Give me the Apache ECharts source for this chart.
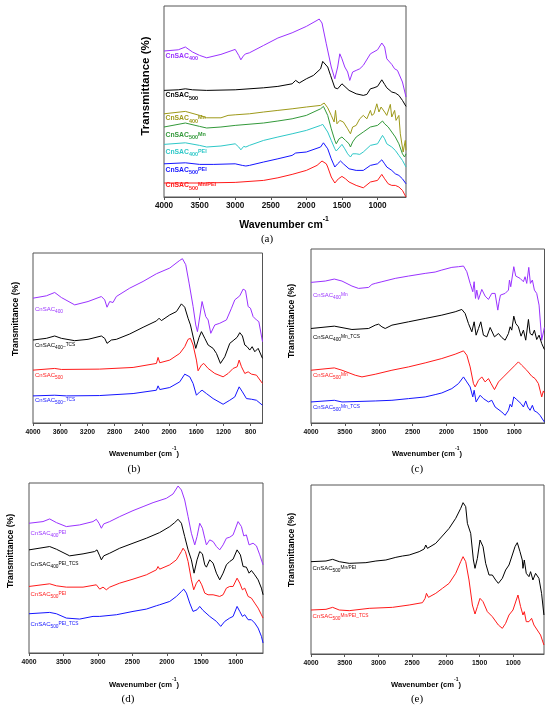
<!DOCTYPE html>
<html>
<head>
<meta charset="utf-8">
<script src="https://cdn.jsdelivr.net/npm/echarts@6/dist/echarts.min.js"></script>
<style>
  html, body { margin: 0; padding: 0; background: #fff; }
  #main { width: 550px; height: 709px; }
</style>
</head>
<body>
<div id="main"></div>
<script>
// ---- data: [wavenumber, relative transmittance] ----

// (a)
var a400 = [[4000,74.7],[3800,75.3],[3700,76.7],[3600,74.2],[3500,72.5],[3400,71.3],[3200,73],[3000,75.5],[2950,72.5],[2920,70.3],[2880,72.5],[2850,73.3],[2800,73.8],[2600,77.5],[2400,81.2],[2200,83.8],[2000,87],[1850,90],[1820,90.7],[1780,88.7],[1720,78.3],[1650,66.7],[1600,60.8],[1560,66.7],[1530,73.3],[1500,70.8],[1460,66.7],[1420,64.2],[1390,60],[1350,64.2],[1300,65],[1250,65.8],[1200,67.5],[1100,73.3],[1000,75.3],[940,78.7],[900,76.7],[870,70.8],[850,71.3],[800,68],[760,65.8],[720,65],[700,64.2],[650,59.2],[600,51.7]];
var a500 = [[4000,55],[3800,55.3],[3700,55.8],[3600,55.3],[3400,55],[3000,55.3],[2600,56.3],[2400,57],[2200,58.3],[2150,60],[2100,58.7],[2000,60.8],[1900,62.5],[1800,65.8],[1770,69.5],[1700,66.7],[1660,62.5],[1600,56.3],[1560,55.8],[1500,58.3],[1480,58.3],[1400,55],[1300,53.3],[1200,52.5],[1150,53],[1100,55.8],[1050,56.3],[1000,57],[940,60.3],[900,58],[870,56.3],[850,55.3],[800,54.2],[750,53.7],[700,52.5],[650,50],[600,47]];
var a400Mn = [[4000,43.3],[3700,44.5],[3500,42.5],[3400,41.3],[3200,41.3],[3100,42.5],[3000,42.8],[2800,43.3],[2600,44.2],[2400,45],[2200,45.8],[2000,46.7],[1800,47.5],[1750,48.7],[1700,46.3],[1650,42.5],[1610,39.2],[1590,45],[1570,38.3],[1530,40],[1480,39.2],[1420,35.8],[1380,33.3],[1350,36.7],[1300,37.5],[1250,40.8],[1200,42.5],[1150,40.8],[1100,45],[1080,42.5],[1050,43.3],[1010,48.3],[980,44.2],[950,46.7],[900,44.2],[870,42.5],[820,48],[800,41.7],[760,45],[740,40],[700,42.5],[680,33.3],[640,24.2],[620,23.3],[610,30],[600,25]];
var a500Mn = [[4000,36.7],[3700,38.7],[3500,37],[3400,36.2],[3200,36.7],[3000,37.5],[2600,38.7],[2400,39.7],[2200,40.8],[2000,42.5],[1800,45.8],[1760,47],[1700,42.5],[1650,35.8],[1600,30],[1580,28.3],[1540,30.8],[1500,31.7],[1450,30],[1400,28.3],[1380,26.7],[1350,29.2],[1300,31.7],[1200,34.2],[1100,36.7],[1000,37.5],[930,39.7],[900,38.3],[850,36.7],[800,34.2],[750,31.7],[700,28.3],[650,23.3],[620,21.7],[600,23.3]];
var a400PEI = [[4000,28],[3700,28.8],[3500,27.5],[3400,26.7],[3200,27.2],[3000,28.3],[2950,26.7],[2920,25.3],[2880,27],[2850,26.7],[2800,27.5],[2600,30],[2400,31.7],[2200,33.3],[2000,35],[1800,37.5],[1770,38],[1700,34.2],[1650,30],[1600,25.8],[1580,24.7],[1530,26.7],[1500,28],[1460,25.8],[1420,23.3],[1380,21.7],[1350,23.3],[1300,23.3],[1250,23],[1200,24.2],[1100,27.5],[1000,28.3],[930,32.5],[900,30.8],[870,28.3],[850,28],[800,26.7],[750,25],[700,22.5],[650,20],[600,16.7]];
var a500PEI = [[4000,18.3],[3700,18.8],[3500,18],[3300,18],[3000,18.3],[2900,17.5],[2850,17.2],[2800,17.5],[2600,19.2],[2400,20.8],[2200,22.5],[2150,23.7],[2000,24.2],[1800,26.7],[1760,28.8],[1700,25.8],[1650,20.8],[1600,16.7],[1560,18.3],[1520,19.7],[1480,18.3],[1400,15.8],[1300,15],[1200,15],[1100,17.5],[1000,18.3],[940,20.3],[900,18.3],[870,16.7],[800,15],[750,13.3],[700,12.5],[650,10.8],[600,8.3]];
var a500MnPEI = [[4000,8.7],[3500,8.7],[3000,9],[2600,10],[2400,11.3],[2200,13],[2000,15],[1850,17.5],[1780,19.7],[1720,18.3],[1700,16.7],[1650,11.7],[1600,8.7],[1550,10.8],[1500,12],[1450,10.8],[1400,9.2],[1300,7.5],[1200,6.3],[1100,9.2],[1000,10],[940,13],[900,10.8],[850,8.3],[800,7.5],[750,7.5],[700,6.7],[650,5],[600,1.7]];

// (b)
var b400 = [[4000,75],[3804,76.4],[3681,78.4],[3583,75.4],[3387,71],[3191,73],[2995,76],[2946,74],[2912,69.6],[2873,73],[2824,72.4],[2775,76],[2578,81],[2382,85],[2186,89.6],[1990,93],[1843,97.6],[1804,98.6],[1755,95],[1706,84],[1647,70],[1608,59],[1583,55],[1515,73],[1461,64],[1426,62],[1387,54],[1328,59],[1255,60],[1157,62],[1083,69],[1034,74],[961,76.4],[912,80.4],[877,79.6],[838,70],[804,69],[765,64],[716,62],[681,61],[627,49]];
var b400TCS = [[4000,50],[3804,51],[3681,52.4],[3583,51],[3387,49.6],[3191,50.4],[2995,52.4],[2946,51],[2912,48],[2848,50],[2775,50.4],[2578,53.6],[2382,57.6],[2186,61.4],[2147,63],[2113,61.6],[1990,65],[1892,67],[1819,71.6],[1770,69.6],[1721,63],[1686,59],[1657,58],[1608,45],[1559,51.6],[1524,55],[1475,51],[1426,47],[1402,48],[1353,45],[1304,42],[1245,36],[1181,40],[1108,48],[1059,49.6],[1000,51.6],[961,54.4],[922,52.4],[887,47],[853,46],[814,44],[779,46],[740,43],[691,45],[627,39]];
var b500 = [[4000,32],[3681,33],[3583,32.4],[3020,32.6],[2529,33.6],[2186,36],[2162,39.6],[2137,36.4],[1990,38],[1843,42],[1770,46],[1721,50.4],[1686,51],[1647,47],[1598,38],[1574,31.6],[1524,35],[1490,36],[1426,33],[1328,30],[1206,28],[1132,30],[1059,33],[1000,34],[970,38],[936,34],[887,30],[838,31],[789,29.6],[716,29],[627,24]];
var b500TCS = [[4000,16.6],[3681,17],[3510,16.6],[3020,16.8],[2529,18],[2186,20],[2162,22.6],[2137,20.4],[1990,21.6],[1843,25],[1770,29.6],[1745,30.4],[1696,28],[1647,24],[1598,17],[1549,19],[1515,20],[1451,18],[1353,15],[1206,11.6],[1108,14],[1034,16],[970,22],[922,19],[863,15],[789,14.6],[716,14],[627,11]];

// (c)
var c400Mn = [[4000,84.6],[3789,85.4],[3656,86.6],[3543,85.4],[3396,82.4],[3298,81],[3150,81.6],[3101,83.4],[3052,84],[2954,85],[2757,87],[2561,88.4],[2315,90],[2168,90.8],[2070,92],[1922,93.6],[1824,94],[1750,94.4],[1701,91],[1652,84],[1613,79],[1593,85],[1573,75],[1554,80],[1529,74.4],[1480,80.4],[1431,76.4],[1382,74.4],[1333,78],[1284,78],[1244,68],[1225,73],[1205,77],[1136,78],[1087,80],[1072,86],[1053,82],[1008,94],[979,88.4],[915,87],[866,85],[842,88],[817,84],[787,93.6],[763,84],[734,86],[704,80],[670,78],[635,71],[596,50],[557,57.6]];
var c400MnTCS = [[4000,57],[3656,58.4],[3396,56.4],[3150,57],[3052,59],[3003,59.6],[2954,58],[2905,57],[2806,59],[2561,61],[2315,63],[2070,65],[1873,67],[1775,68.4],[1726,66],[1677,60],[1627,55],[1593,61],[1564,53],[1529,57],[1495,61],[1456,53],[1406,52],[1357,57.6],[1333,57.6],[1293,52],[1234,54],[1185,51.6],[1136,50],[1087,54],[1062,58],[1038,56],[1008,64.4],[979,60],[940,58],[901,52.4],[866,56],[832,50],[792,62.4],[768,54],[734,53],[704,56],[670,50.4],[635,53],[596,48],[557,44.4]];
var c500Mn = [[4000,32],[3656,33.4],[3543,32],[3347,29],[3248,28],[3052,29.6],[2806,32],[2561,34],[2315,36.4],[2070,39],[1873,41.6],[1750,43.6],[1701,41],[1652,34],[1603,24],[1578,22],[1529,26],[1480,28],[1431,25],[1382,27],[1343,24],[1293,20.4],[1234,25],[1161,28],[1087,31],[989,35],[940,37],[891,35],[817,32],[743,28.4],[694,27],[645,24],[596,16],[572,19.6],[557,18.4]];
var c500MnTCS = [[4000,13],[3656,14],[3543,13],[3052,13.6],[3027,14.6],[2806,14],[2561,15],[2315,16],[2168,17.4],[2070,18.4],[1922,21],[1824,24],[1750,28],[1701,25],[1652,22],[1613,16],[1593,20],[1564,13],[1505,17],[1456,15],[1382,13],[1333,14],[1284,10],[1185,7],[1136,5],[1087,8],[1062,11.6],[1038,10],[1008,16],[964,14.4],[940,15],[901,12],[866,10],[832,13.6],[802,10],[768,8],[734,11],[704,7.6],[670,7],[621,5],[557,1]];

// (d)
var d400PEI = [[4000,78],[3797,79],[3700,80.6],[3603,78.4],[3458,76],[3265,77],[3071,79],[3023,80.4],[2984,78],[2950,75],[2916,77.6],[2829,79],[2684,82],[2491,85.6],[2345,88],[2200,90.4],[2007,93],[1910,95.6],[1837,100.4],[1789,98],[1741,92],[1692,82],[1644,72],[1595,65],[1562,70],[1523,78],[1484,75],[1450,69],[1426,65],[1402,64],[1378,68],[1329,67],[1281,64],[1233,62],[1184,65],[1136,69],[1088,69.6],[1039,71],[967,79],[918,76],[884,70.4],[846,71],[807,65],[749,66],[700,64.4],[652,59],[604,53]];
var d400PEITCS = [[4000,62],[3700,64],[3603,62.4],[3410,58.4],[3216,59.6],[3047,61],[3013,62],[2974,58.4],[2950,56],[2916,58.4],[2829,60],[2684,63],[2491,66],[2297,69],[2104,72.4],[1958,76],[1886,78.4],[1837,80.4],[1789,78],[1741,70],[1692,62],[1644,56],[1605,48],[1562,56],[1523,61],[1484,59.6],[1450,53],[1426,51.6],[1378,56],[1329,54],[1281,48],[1233,44],[1184,48],[1136,53],[1088,55],[1039,56.4],[981,62],[933,59],[894,52],[846,51.6],[807,48],[773,49.6],[725,47],[676,44],[628,39],[604,35]];
var d500PEI = [[4000,40],[3700,41.6],[3603,40.4],[3458,39.6],[3216,39.6],[3023,41],[2974,38.4],[2926,39.6],[2878,38],[2829,39.6],[2684,42],[2491,44.4],[2297,47],[2152,50],[2128,52],[2104,50.4],[1958,53],[1862,56],[1789,61],[1765,63],[1731,61],[1692,55],[1644,44],[1610,38],[1571,42],[1533,44],[1494,41],[1450,36],[1402,35],[1329,35],[1233,34],[1184,35],[1136,39],[1088,40],[1039,40],[981,45],[942,42],[904,38],[870,39],[821,34],[773,33],[725,30],[676,27],[628,23],[604,21]];
var d500PEITCS = [[4000,23.6],[3700,24.4],[3603,23.6],[3458,21],[3265,20.4],[3071,22],[2974,22],[2732,23],[2491,25],[2297,26.4],[2152,28.4],[2128,29.6],[2104,29],[1958,31],[1862,34],[1789,37],[1755,38.4],[1716,36],[1668,30],[1620,25],[1595,24],[1562,26],[1523,28],[1475,25.6],[1378,22],[1281,19],[1218,16],[1160,19],[1088,21],[1039,22],[981,28],[942,25],[904,22],[870,23],[821,20],[773,20],[725,18],[676,15],[628,10],[604,6]];

// (e)
var e500MnPEI = [[4000,56],[3778,56.4],[3679,57.4],[3581,56],[3433,55],[3186,55.4],[3038,56.4],[2890,57],[2742,58.6],[2643,59.4],[2544,60],[2396,62],[2322,63.6],[2298,66],[2273,64],[2150,67],[2026,72.6],[1952,76],[1854,82],[1780,88],[1745,91.4],[1706,89],[1681,79],[1657,80],[1632,73],[1592,57],[1568,52],[1533,58],[1494,69],[1449,65],[1410,55],[1360,48],[1311,48],[1262,45],[1222,43],[1163,46],[1114,51],[1064,54],[1015,60],[975,65],[941,67.4],[901,62],[867,57],[857,52],[837,57],[808,49],[768,47],[744,50],[709,45],[670,49],[620,46],[581,37],[546,24]];
var e500MnPEITCS = [[4000,27],[3778,27.4],[3679,28.6],[3581,27],[3433,26.6],[3137,28],[2791,28.6],[2544,30],[2347,31.4],[2308,34],[2288,37],[2258,34.6],[2150,37],[2051,40],[1952,43],[1854,49],[1780,56],[1745,59],[1706,56],[1657,45],[1607,30],[1568,24.6],[1533,29],[1494,34],[1449,32],[1385,26],[1311,23],[1222,18],[1163,16],[1114,19],[1064,24],[1005,27],[956,33],[931,36],[892,29],[857,24],[837,26],[808,20],[768,20],[729,22],[694,18],[645,15],[596,12],[571,9],[546,6]];

// tick labels
var ticksA = [4000, 3500, 3000, 2500, 2000, 1500, 1000];
var ticksB = [4000, 3600, 3200, 2800, 2400, 2000, 1600, 1200, 800];
var ticks500 = [4000, 3500, 3000, 2500, 2000, 1500, 1000];

var PURPLE = '#9a32ff', BLACK = '#000000', OLIVE = '#9e9a1a', GREEN = '#33993a',
    CYAN = '#2ec8c8', BLUE = '#1515ff', RED = '#ff1a1a';

var chart = echarts.init(document.getElementById('main'));

var grids = [
  {left: 164, top: 6, width: 242, height: 191},
  {left: 33, top: 253, width: 229.5, height: 170},
  {left: 311, top: 249, width: 233.5, height: 174},
  {left: 29, top: 483, width: 234, height: 170},
  {left: 311, top: 485, width: 233, height: 169}
];
grids.forEach(function (g) {
  g.show = true; g.borderColor = '#555'; g.borderWidth = 1; g.containLabel = false;
});

function xAx(i, min, ticks, fs, margin) {
  return {
    type: 'value', gridIndex: i, inverse: true, min: min, max: 4000,
    axisLine: {show: true, lineStyle: {color: '#555', width: 1}},
    axisTick: {show: true, length: 3, customValues: ticks, lineStyle: {color: '#555'}},
    axisLabel: {customValues: ticks, fontSize: fs, fontWeight: 'bold', color: '#111',
      fontFamily: 'Liberation Sans, Arial, sans-serif', margin: margin,
      formatter: function (v) { return String(v); }},
    splitLine: {show: false}
  };
}
function yAx(i, min, max) {
  return {type: 'value', gridIndex: i, min: min, max: max, show: false, splitLine: {show: false}};
}

function line(i, data, color) {
  return {
    type: 'line', xAxisIndex: i, yAxisIndex: i, data: data, symbol: 'none',
    lineStyle: {color: color, width: 1}, itemStyle: {color: color},
    silent: true, animation: false, z: 3
  };
}

var FONT = 'Liberation Sans, Arial, sans-serif';

function richSet(fs, bold) {
  var w = bold ? 'bold' : 'normal';
  var sub = fs * 0.8;
  var lh = fs + 2;
  return {
    m: {fontSize: fs, fontWeight: w, fontFamily: FONT, lineHeight: lh, verticalAlign: 'top'},
    s: {fontSize: sub, fontWeight: w, fontFamily: FONT, lineHeight: sub, verticalAlign: 'bottom'},
    p: {fontSize: sub, fontWeight: w, fontFamily: FONT, lineHeight: sub, verticalAlign: 'top'}
  };
}

// parts: [[style, text], ...]
function tag(x, y, color, parts, fs, bold) {
  var txt = parts.map(function (p) { return '{' + p[0] + '|' + p[1] + '}'; }).join('');
  return {
    type: 'text', x: x, y: y, z: 10, silent: true,
    style: {text: txt, fill: color, textAlign: 'left', textVerticalAlign: 'middle',
      rich: richSet(fs, bold)}
  };
}

function xTitle(x, y, txt, fs) {
  return {
    type: 'text', x: x, y: y, z: 10, silent: true,
    style: {
      text: '{n|' + txt + '}{u|-1}' + (txt.indexOf('(') >= 0 ? '{n|)}' : ''),
      fill: '#000', textAlign: 'center', textVerticalAlign: 'middle',
      rich: {
        n: {fontSize: fs, fontWeight: 'bold', fontFamily: FONT, lineHeight: fs + 4, verticalAlign: 'bottom'},
        u: {fontSize: fs * 0.65, fontWeight: 'bold', fontFamily: FONT, lineHeight: fs * 0.65, verticalAlign: 'top'}
      }
    }
  };
}
function yTitle(x, y, fs) {
  return {
    type: 'text', x: x, y: y, rotation: Math.PI / 2, z: 10, silent: true,
    style: {text: 'Transmittance (%)', fill: '#000', fontSize: fs, fontWeight: 'bold',
      fontFamily: FONT, textAlign: 'center', textVerticalAlign: 'middle'}
  };
}
function panel(x, y, t) {
  return {
    type: 'text', x: x, y: y, z: 10, silent: true,
    style: {text: t, fill: '#000', fontSize: 11, fontFamily: 'Liberation Serif, Times New Roman, serif',
      textAlign: 'center', textVerticalAlign: 'middle'}
  };
}

var LS = 6.8, LB = 6;

var graphic = [
  // (a)
  tag(165.5, 57, PURPLE, [['m', 'CnSAC'], ['s', '400']], LS, true),
  tag(165.5, 96.5, BLACK, [['m', 'CnSAC'], ['s', '500']], LS, true),
  tag(165.5, 119.5, OLIVE, [['m', 'CnSAC'], ['s', '400'], ['p', 'Mn']], LS, true),
  tag(165.5, 136, GREEN, [['m', 'CnSAC'], ['s', '500'], ['p', 'Mn']], LS, true),
  tag(165.5, 153, CYAN, [['m', 'CnSAC'], ['s', '400'], ['p', 'PEI']], LS, true),
  tag(165.5, 171, BLUE, [['m', 'CnSAC'], ['s', '500'], ['p', 'PEI']], LS, true),
  tag(165.5, 186.5, RED, [['m', 'CnSAC'], ['s', '500'], ['p', 'Mn/PEI']], LS, true),
  yTitle(146, 86, 11.5),
  xTitle(284, 223, 'Wavenumber cm', 10.5),
  panel(267, 239.5, '(a)'),
  // (b)
  tag(35, 310, PURPLE, [['m', 'CnSAC'], ['s', '400']], LB, false),
  tag(35, 346, BLACK, [['m', 'CnSAC'], ['s', '400'], ['p', '_TCS']], LB, false),
  tag(35, 376, RED, [['m', 'CnSAC'], ['s', '500']], LB, false),
  tag(35, 401.5, BLUE, [['m', 'CnSAC'], ['s', '500'], ['p', '_TCS']], LB, false),
  yTitle(15.5, 319, 8.6),
  xTitle(144, 452, 'Wavenumber (cm', 7.6),
  panel(134, 469.5, '(b)'),
  // (c)
  tag(313, 296.5, PURPLE, [['m', 'CnSAC'], ['s', '400'], ['p', 'Mn']], LB, false),
  tag(313, 338.5, BLACK, [['m', 'CnSAC'], ['s', '400'], ['p', 'Mn_TCS']], LB, false),
  tag(313, 376.5, RED, [['m', 'CnSAC'], ['s', '500'], ['p', 'Mn']], LB, false),
  tag(313, 408, BLUE, [['m', 'CnSAC'], ['s', '500'], ['p', 'Mn_TCS']], LB, false),
  yTitle(292, 321, 8.6),
  xTitle(427, 452, 'Wavenumber (cm', 7.6),
  panel(417, 469.5, '(c)'),
  // (d)
  tag(30.5, 534, PURPLE, [['m', 'CnSAC'], ['s', '400'], ['p', 'PEI']], LB, false),
  tag(30.5, 565, BLACK, [['m', 'CnSAC'], ['s', '400'], ['p', 'PEI_TCS']], LB, false),
  tag(30.5, 595, RED, [['m', 'CnSAC'], ['s', '500'], ['p', 'PEI']], LB, false),
  tag(30.5, 625, BLUE, [['m', 'CnSAC'], ['s', '500'], ['p', 'PEI_TCS']], LB, false),
  yTitle(11, 551, 8.6),
  xTitle(144, 683, 'Wavenumber (cm', 7.6),
  panel(128, 699.5, '(d)'),
  // (e)
  tag(312.5, 569, BLACK, [['m', 'CnSAC'], ['s', '500'], ['p', 'Mn/PEI']], LB, false),
  tag(312.5, 617, RED, [['m', 'CnSAC'], ['s', '500'], ['p', 'Mn/PEI_TCS']], LB, false),
  yTitle(291.5, 550, 8.6),
  xTitle(426, 683, 'Wavenumber (cm', 7.6),
  panel(417, 699.5, '(e)')
];

var option = {
  backgroundColor: '#fff',
  animation: false,
  grid: grids,
  xAxis: [
    xAx(0, 600, ticksA, 8.2, 5),
    xAx(1, 627, ticksB, 6.8, 6),
    xAx(2, 555, ticks500, 6.8, 6),
    xAx(3, 605, ticks500, 6.8, 6),
    xAx(4, 545, ticks500, 6.8, 6)
  ],
  yAxis: [
    yAx(0, 1.7, 97.2),
    yAx(1, 0.4, 102),
    yAx(2, 0.4, 104.6),
    yAx(3, 0, 102.2),
    yAx(4, 0.6, 102)
  ],
  series: [
    line(0, a400, PURPLE), line(0, a500, BLACK), line(0, a400Mn, OLIVE), line(0, a500Mn, GREEN),
    line(0, a400PEI, CYAN), line(0, a500PEI, BLUE), line(0, a500MnPEI, RED),
    line(1, b400, PURPLE), line(1, b400TCS, BLACK), line(1, b500, RED), line(1, b500TCS, BLUE),
    line(2, c400Mn, PURPLE), line(2, c400MnTCS, BLACK), line(2, c500Mn, RED), line(2, c500MnTCS, BLUE),
    line(3, d400PEI, PURPLE), line(3, d400PEITCS, BLACK), line(3, d500PEI, RED), line(3, d500PEITCS, BLUE),
    line(4, e500MnPEI, BLACK), line(4, e500MnPEITCS, RED)
  ],
  graphic: graphic
};

chart.setOption(option);
</script>
</body>
</html>
